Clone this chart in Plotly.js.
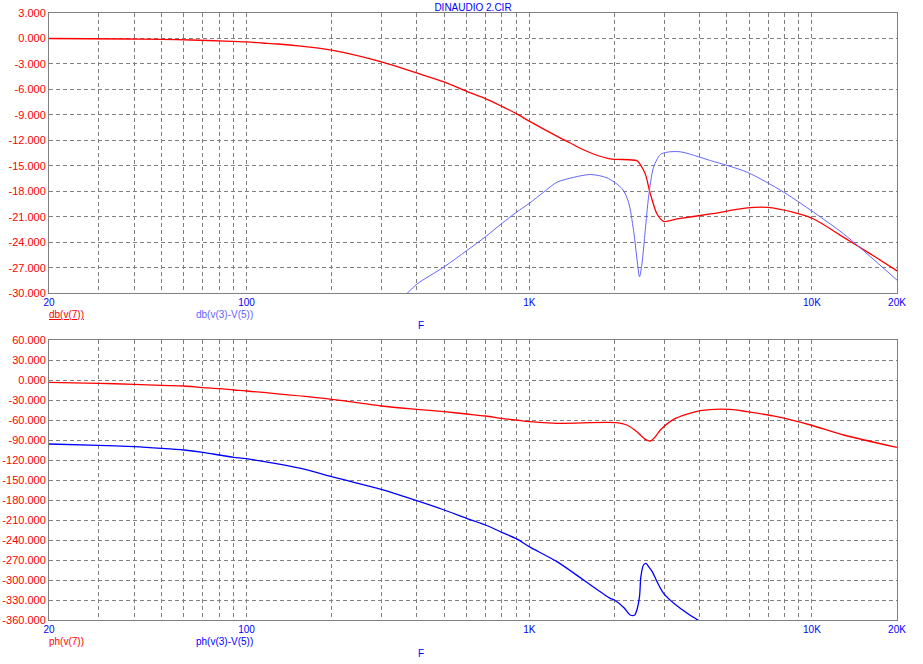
<!DOCTYPE html>
<html>
<head>
<meta charset="utf-8">
<script src="https://cdn.plot.ly/plotly-3.0.1.min.js"></script>
<style>html,body{margin:0;padding:0;background:#fff;}#chart{width:923px;height:664px;}</style>
</head>
<body>
<div id="chart"></div>
<script>
// ---- Data ----
var chartTitle = "DINAUDIO 2.CIR";

// top panel: db(v(7))
var dbV7Freq = [20, 38, 50, 64, 84, 100, 114, 129, 155, 200, 300, 400, 500, 600, 700, 800, 900, 1000, 1286, 1397, 1476, 1688, 1934, 2403, 2455, 2573, 2682, 2832, 2987, 3333, 4376, 5904, 6937, 8625, 10150, 12960, 16000, 20000];
var dbV7 = [0.0, -0.06, -0.1, -0.18, -0.3, -0.4, -0.53, -0.65, -0.9, -1.38, -2.76, -4.06, -5.12, -6.22, -7.08, -7.99, -8.85, -9.73, -11.7, -12.3, -12.75, -13.6, -14.17, -14.37, -14.7, -15.94, -18.3, -20.66, -21.53, -21.25, -20.66, -19.95, -19.88, -20.47, -21.25, -23.42, -25.3, -27.36];

// top panel: db(v(3)-V(5))
var dbV35Freq = [370, 400, 500, 600, 700, 800, 900, 1000, 1123, 1253, 1436, 1643, 1884, 2133, 2246, 2339, 2417, 2455, 2504, 2573, 2643, 2753, 2910, 3070, 3420, 4376, 5904, 7960, 10150, 12960, 20000];
var dbV35 = [-30.0, -28.93, -26.88, -24.99, -23.34, -21.77, -20.47, -19.41, -18.1, -16.93, -16.35, -16.02, -16.41, -17.71, -19.29, -22.6, -26.56, -28.06, -26.56, -22.6, -18.7, -15.16, -13.66, -13.39, -13.34, -14.37, -15.75, -18.11, -20.47, -23.02, -28.45];

// bottom panel: ph(v(7))
var phV7Freq = [20, 30, 40, 50, 60, 70, 80, 90, 100, 200, 300, 400, 500, 600, 700, 800, 900, 1000, 1253, 2037, 2215, 2403, 2573, 2682, 2794, 2910, 3242, 4029, 5144, 5904, 7535, 9886, 12960, 20000];
var phV7 = [-3.5, -5, -6.5, -8, -9, -11.5, -13, -15, -16.5, -29, -39, -44, -47.5, -51, -54, -57.5, -60, -62.5, -65, -64, -67.5, -77.5, -89, -91.5, -85, -75, -59, -46, -44, -47.5, -55, -67.5, -82.5, -101];

// bottom panel: ph(v(3)-V(5))
var phV35Freq = [20, 30, 40, 50, 60, 70, 80, 90, 100, 161, 200, 300, 400, 500, 600, 700, 800, 900, 1000, 1253, 1557, 1934, 2000, 2168, 2275, 2361, 2403, 2455, 2483, 2537, 2589, 2643, 2724, 2832, 2987, 3420, 3954, 4100];
var phV35 = [-96, -98, -100, -102.5, -105, -108.5, -112.5, -116, -118, -134, -145, -164, -181, -195, -207.5, -217.5, -228.5, -238, -250, -272.5, -300, -327.5, -330, -342, -352.5, -352.5, -345, -325, -295, -277.5, -275, -280, -287.5, -302.5, -320, -342.5, -360, -363];

// axis ticks
var freqGridVals = [20, 30, 40, 50, 60, 70, 80, 90, 100, 200, 300, 400, 500, 600, 700, 800, 900, 1000, 2000, 3000, 4000, 5000, 6000, 7000, 8000, 9000, 10000, 20000];
var freqLabelVals = [20, 100, 1000, 10000, 20000];
var freqLabelText = ["20", "100", "1K", "10K", "20K"];
var dbTickVals = [3, 0, -3, -6, -9, -12, -15, -18, -21, -24, -27, -30];
var phTickVals = [60, 30, 0, -30, -60, -90, -120, -150, -180, -210, -240, -270, -300, -330, -360];

var legendTop = ["db(v(7))", "db(v(3)-V(5))"];
var legendBottom = ["ph(v(7))", "ph(v(3)-V(5))"];
var xAxisName = "F";

// ---- Styling ----
var RED = "#ff0000", LBLUE = "#6464ff", BLUE = "#0000ff", GRID = "#808080";
var FONT = "Arial, 'Liberation Sans', sans-serif";

var freqTickText = freqGridVals.map(function (v) {
  var i = freqLabelVals.indexOf(v);
  return i >= 0 ? freqLabelText[i] : "";
});
function fmt(v) { return v.toFixed(3); }

function xAxis(anchor) {
  return {
    type: "log", range: [Math.log10(20), Math.log10(20000)], anchor: anchor,
    tickmode: "array", tickvals: freqGridVals, ticktext: freqTickText,
    ticks: "", showgrid: true, gridcolor: GRID, griddash: "4px,3px", gridwidth: 1,
    showline: true, mirror: true, linecolor: GRID, linewidth: 1,
    zeroline: false, tickfont: {family: FONT, size: 10, color: BLUE}, fixedrange: true
  };
}
function yAxis(anchor, range, vals, domain) {
  return {
    range: range, anchor: anchor, domain: domain,
    tickmode: "array", tickvals: vals, ticktext: vals.map(fmt),
    ticks: "", showgrid: true, gridcolor: GRID, griddash: "4px,3px", gridwidth: 1,
    showline: true, mirror: true, linecolor: GRID, linewidth: 1,
    zeroline: false, tickfont: {family: FONT, size: 11, color: RED}, fixedrange: true
  };
}

function line(color, width) { return {color: color, width: width, shape: "spline", smoothing: 0.8}; }

var traces = [
  {x: dbV7Freq, y: dbV7, xaxis: "x", yaxis: "y", mode: "lines", line: line(RED, 1.3), hoverinfo: "skip"},
  {x: dbV35Freq, y: dbV35, xaxis: "x", yaxis: "y", mode: "lines", line: line(LBLUE, 1), hoverinfo: "skip"},
  {x: phV7Freq, y: phV7, xaxis: "x2", yaxis: "y2", mode: "lines", line: line(RED, 1.3), hoverinfo: "skip"},
  {x: phV35Freq, y: phV35, xaxis: "x2", yaxis: "y2", mode: "lines", line: line(BLUE, 1.3), hoverinfo: "skip"}
];

var W = 923, H = 664, L = 49, R = 26, T = 13, B = 44;
var pw = W - L - R, ph = H - T - B;
function px2x(p) { return (p - L) / pw; }
function px2y(p) { return (H - B - p) / ph; }

function ann(text, xp, yp, color, anchor) {
  return {text: text, xref: "paper", yref: "paper", x: px2x(xp), y: px2y(yp),
    xanchor: anchor || "left", yanchor: "middle", showarrow: false, xshift: anchor ? 0 : -2,
    font: {family: FONT, size: 10, color: color}};
}

var layout = {
  width: W, height: H,
  margin: {l: L, r: R, t: T, b: B, pad: 0},
  paper_bgcolor: "#ffffff", plot_bgcolor: "#ffffff",
  showlegend: false,
  title: {text: chartTitle, font: {family: FONT, size: 10, color: BLUE},
    x: 0.5, xref: "paper", xanchor: "center", y: 1 - 7 / H, yref: "container", yanchor: "middle"},
  xaxis: xAxis("y"),
  yaxis: yAxis("x", [-30, 3], dbTickVals, [px2y(293.3), 1]),
  xaxis2: xAxis("y2"),
  yaxis2: yAxis("x2", [-360, 60], phTickVals, [0, px2y(340)]),
  annotations: [
    ann("<u>" + legendTop[0] + "</u>", 49, 314.5, RED),
    ann(legendTop[1], 196, 314.5, LBLUE),
    ann(xAxisName, 421, 325, BLUE, "center"),
    ann(legendBottom[0], 49, 641, RED),
    ann(legendBottom[1], 196, 641, BLUE),
    ann(xAxisName, 421, 653, BLUE, "center")
  ]
};

Plotly.newPlot("chart", traces, layout, {staticPlot: true, displayModeBar: false});
</script>
</body>
</html>
